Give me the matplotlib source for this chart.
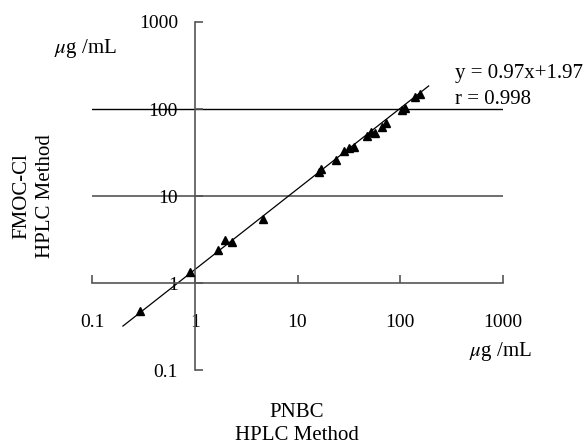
import matplotlib.pyplot as plt
from matplotlib.ticker import FixedLocator, NullLocator

plt.rcParams["font.family"] = ["Liberation Serif", "DejaVu Serif"]
plt.rcParams["mathtext.fontset"] = "stix"

# PNBC (x) vs FMOC-Cl (y) concentrations, ug/mL
pnbc = [0.29, 0.90, 1.68, 1.98, 2.3, 4.57, 16.3, 17.1, 23.9, 28.1, 31.5,
        35.2, 47.5, 52.3, 56.4, 66.5, 73.2, 104, 112, 138, 154.5]
fmoc = [0.48, 1.34, 2.4, 3.1, 2.98, 5.4, 19.0, 20.4, 25.9, 32.9, 35.3,
        36.9, 49.3, 54.0, 52.6, 62.6, 69.6, 97.4, 103.5, 138, 147.6]

fit_x = [0.2, 189]
fit_y = [0.32, 184]

ticks = [0.1, 1, 10, 100, 1000]
tick_labels = ["0.1", "1", "10", "100", "1000"]
grid_y = [10, 100]

fig = plt.figure(figsize=(5.85, 4.48), dpi=100)
ax = fig.add_axes([92 / 585, 78 / 448, 411 / 585, 348 / 448])
ax.set_xscale("log")
ax.set_yscale("log")
ax.set_xlim(0.1, 1000)
ax.set_ylim(0.1, 1000)

for sp in ("top", "right"):
    ax.spines[sp].set_visible(False)
ax.spines["left"].set_position(("data", 1))
ax.spines["bottom"].set_position(("data", 1))
for sp in ("left", "bottom"):
    ax.spines[sp].set_color("#555555")
    ax.spines[sp].set_linewidth(1.2)

ax.xaxis.set_major_locator(FixedLocator(ticks))
ax.yaxis.set_major_locator(FixedLocator(ticks))
ax.xaxis.set_minor_locator(NullLocator())
ax.yaxis.set_minor_locator(NullLocator())
ax.set_xticklabels(tick_labels)
ax.set_yticklabels(tick_labels)
ax.tick_params(axis="both", direction="in", length=6, width=1.2,
               color="#555555", labelsize=14)
ax.tick_params(axis="x", pad=22)
ax.tick_params(axis="y", pad=12)

ax.axhline(grid_y[1], color="black", lw=1.0, zorder=1)
ax.axhline(grid_y[0], color="#555555", lw=1.2, zorder=1)

ax.plot(fit_x, fit_y, color="black", lw=0.9, zorder=2)
ax.plot(pnbc, fmoc, "^", color="black", ms=5.5, zorder=3)

ax.text(455, 448 - 73, "y = 0.97x+1.97", transform=None, fontsize=15,
        ha="left", va="center")
ax.text(455, 448 - 99, "r = 0.998", transform=None, fontsize=15,
        ha="left", va="center")

fig.text(85 / 585, 1 - 48 / 448, r"$\mu$g /mL", fontsize=15,
         ha="center", va="center")
fig.text(500 / 585, 1 - 351 / 448, r"$\mu$g /mL", fontsize=15,
         ha="center", va="center")

fig.text(34 / 585, 1 - 196 / 448, "FMOC-Cl\nHPLC Method", fontsize=15,
         rotation=90, ha="center", va="center", linespacing=1.35)
fig.text(297 / 585, 1 - 424 / 448, "PNBC\nHPLC Method", fontsize=15,
         ha="center", va="center", linespacing=1.35)

fig.savefig("out.png", dpi=100)
